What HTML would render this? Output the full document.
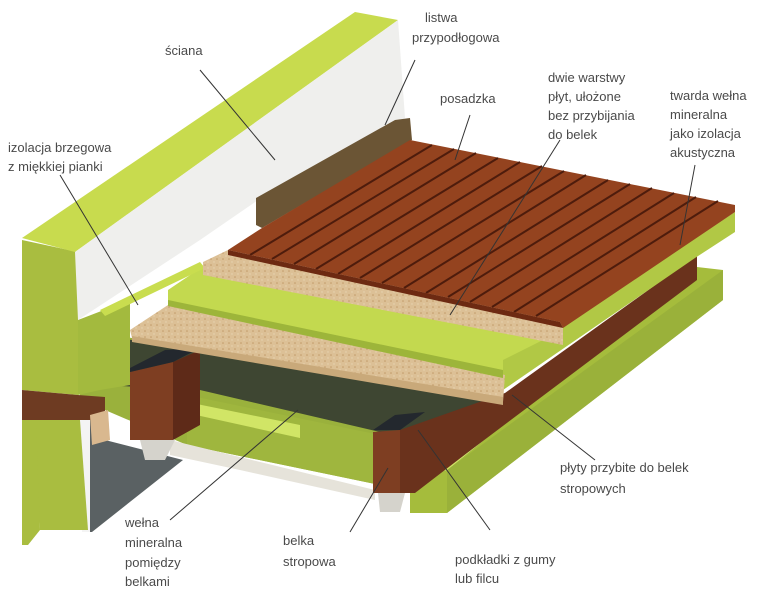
<!DOCTYPE html>
<html><head><meta charset="utf-8"><style>
html,body{margin:0;padding:0;background:#fff;}
svg{display:block}
text{font-family:"Liberation Sans",sans-serif;font-size:13px;fill:#4a4a4a}
</style></head><body>
<svg width="770" height="591" viewBox="0 0 770 591">
<defs>
<pattern id="chip" width="6" height="6" patternUnits="userSpaceOnUse">
<rect width="6" height="6" fill="#dcc096"/>
<circle cx="1" cy="1" r="0.8" fill="#c19a68"/><circle cx="4" cy="4" r="0.7" fill="#e9d5b3"/>
</pattern>
</defs>
<!-- gray under region -->
<polygon points="88,410 105,418 105,440 183,460 92,532 88,532" fill="#5a6163"/>
<polygon points="80,412 90,415 90,532 82,532" fill="#f4f4f4"/>
<!-- green area under chipboard -->
<polygon points="80,330 505,395 505,420 420,445 380,485 187,445 105,410 80,405" fill="#9ab13c"/>
<!-- dark cavity strip -->
<polygon points="100,335 505,398 505,415 420,440 380,432 200,390 100,385" fill="#3e4632"/>
<polygon points="187,395 380,435 380,485 187,445" fill="#9fb63e"/>
<polygon points="187,402 300,425 300,438 187,413" fill="#d1e566"/>
<polygon points="170,440 375,490 375,500 240,470 170,455" fill="#e6e3da"/>
<!-- wall -->
<polygon points="22,240 78,252 78,395 22,390" fill="#a9bd40"/>
<polygon points="22,390 78,395 105,397 105,420 78,420 22,420" fill="#6e3b22"/>
<polygon points="33,420 80,420 88,530 40,530" fill="#a9bd40"/>
<polygon points="22,420 36,420 40,530 28,545 22,545" fill="#a9bd40"/>
<polygon points="78,320 130,300 130,385 100,390 78,395" fill="#a3ba3e"/>
<polygon points="22,238 355,12 398,20 75,252" fill="#c8db4e"/>
<polygon points="75,252 398,20 405,118 258,200 200,240 78,320" fill="#efefed"/>
<polygon points="90,415 108,410 110,440 92,445" fill="#d9b88f"/>
<!-- baseboard -->
<polygon points="256,198 395,120 410,118 412,140 262,228 256,225" fill="#6b5535"/>
<!-- left beam -->
<polygon points="130,372 173,362 173,440 130,440" fill="#7e3e22"/>
<polygon points="173,362 200,350 200,425 173,440" fill="#5e2a18"/>
<polygon points="130,368 165,350 200,348 173,362 130,372" fill="#23282e"/>
<polygon points="140,440 175,440 165,460 145,460" fill="#d5d3cc"/>
<!-- right green block -->
<polygon points="410,477 447,470 697,267 723,270 723,300 447,513 410,513" fill="#a5bc3c"/>
<polygon points="410,477 447,470 480,443 440,452" fill="#cfe35e"/>
<polygon points="447,470 723,270 723,300 447,513" fill="#9ab13a"/>
<!-- right beam + long brown side -->
<polygon points="400,430 505,393 697,255 697,280 467,453 415,493 400,493" fill="#6a321c"/>
<polygon points="373,432 400,430 400,493 373,493" fill="#7e3e22"/>
<polygon points="373,430 395,415 425,412 400,430" fill="#23282e"/>
<polygon points="378,493 405,493 400,512 380,512" fill="#d5d3cc"/>
<!-- middle green layer (hard wool) right -->
<polygon points="503,352 563,325 735,212 735,232 695,258 503,390" fill="#b1c845"/>
<!-- lower chipboard -->
<polygon points="130,330 168,305 505,375 503,402 132,338" fill="url(#chip)"/>
<polygon points="132,336 503,397 503,405 132,342" fill="#c9a97a"/>
<!-- green layer -->
<polygon points="168,290 205,265 563,330 503,360 503,378 168,305" fill="#c3d94f"/>
<polygon points="168,300 503,370 503,378 168,306" fill="#9db53a"/>
<polygon points="100,310 200,262 205,268 105,316" fill="#c9dd4f"/>
<!-- upper chipboard -->
<polygon points="203,262 228,250 563,322 563,345 203,275" fill="url(#chip)"/>
<!-- deck -->
<polygon points="228,250 262,228 410,140 735,205 735,212 563,328 560,322" fill="#94431f"/>
<g stroke="#4e1c0c" stroke-width="2">
<line x1="250" y1="255" x2="432" y2="145"/><line x1="272" y1="259" x2="454" y2="149"/>
<line x1="294" y1="264" x2="476" y2="153"/><line x1="316" y1="269" x2="498" y2="158"/>
<line x1="338" y1="274" x2="520" y2="162"/><line x1="360" y1="278" x2="542" y2="166"/>
<line x1="382" y1="283" x2="564" y2="171"/><line x1="404" y1="288" x2="586" y2="175"/>
<line x1="426" y1="293" x2="608" y2="180"/><line x1="448" y1="297" x2="630" y2="184"/>
<line x1="470" y1="302" x2="652" y2="188"/><line x1="492" y1="307" x2="674" y2="193"/>
<line x1="514" y1="312" x2="696" y2="197"/><line x1="536" y1="316" x2="718" y2="201"/>
</g>
<polygon points="228,250 560,322 563,328 228,255" fill="#6d2a12"/>
<!-- leader lines -->
<g stroke="#333" stroke-width="1">
<line x1="200" y1="70" x2="275" y2="160"/>
<line x1="415" y1="60" x2="385" y2="125"/>
<line x1="470" y1="115" x2="455" y2="160"/>
<line x1="560" y1="140" x2="450" y2="315"/>
<line x1="695" y1="165" x2="680" y2="245"/>
<line x1="60" y1="175" x2="138" y2="305"/>
<line x1="595" y1="460" x2="512" y2="395"/>
<line x1="170" y1="520" x2="298" y2="410"/>
<line x1="350" y1="532" x2="388" y2="468"/>
<line x1="490" y1="530" x2="418" y2="430"/>
</g>
<!-- labels -->
<text x="165" y="55">ściana</text>
<text x="425" y="22">listwa</text>
<text x="412" y="42">przypodłogowa</text>
<text x="440" y="103">posadzka</text>
<text x="548" y="82">dwie warstwy</text>
<text x="548" y="101">płyt, ułożone</text>
<text x="548" y="120">bez przybijania</text>
<text x="548" y="139">do belek</text>
<text x="670" y="100">twarda wełna</text>
<text x="670" y="119">mineralna</text>
<text x="670" y="138">jako izolacja</text>
<text x="670" y="157">akustyczna</text>
<text x="8" y="152">izolacja brzegowa</text>
<text x="8" y="171">z miękkiej pianki</text>
<text x="560" y="472">płyty przybite do belek</text>
<text x="560" y="493">stropowych</text>
<text x="125" y="527">wełna</text>
<text x="125" y="547">mineralna</text>
<text x="125" y="567">pomiędzy</text>
<text x="125" y="586">belkami</text>
<text x="283" y="545">belka</text>
<text x="283" y="566">stropowa</text>
<text x="455" y="564">podkładki z gumy</text>
<text x="455" y="583">lub filcu</text>
</svg>
</body></html>
